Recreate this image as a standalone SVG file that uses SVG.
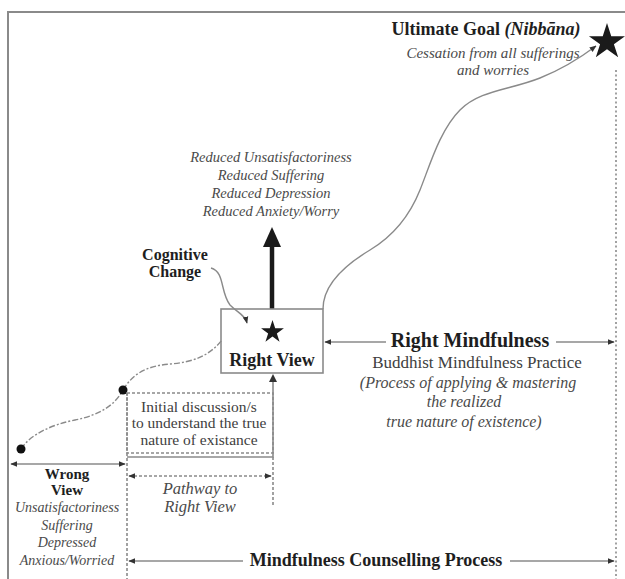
<svg xmlns="http://www.w3.org/2000/svg" width="625" height="579" viewBox="0 0 625 579">
<style>
.frame{stroke:#8a8a8a;stroke-width:2;fill:none}
.ln{stroke:#8a8a8a;stroke-width:1.6;fill:none}
.dash{stroke:#8a8a8a;stroke-width:1.6;fill:none;stroke-dasharray:3 2}
.dot{stroke:#8a8a8a;stroke-width:1.6;fill:none;stroke-dasharray:2 2.5}
.curve{stroke:#8a8a8a;stroke-width:1.4;fill:none}
.ccurve{stroke:#8a8a8a;stroke-width:1.4;fill:none;stroke-dasharray:6 2 2 2}
.b{font-family:"Liberation Serif",serif;font-weight:bold;fill:#1e1e1e;text-anchor:middle}
.i{font-family:"Liberation Serif",serif;font-style:italic;fill:#4a4a4a;text-anchor:middle}
.r{font-family:"Liberation Serif",serif;fill:#404040;text-anchor:middle}
</style>
<defs>
<marker id="ah" viewBox="0 0 10 10" refX="9" refY="5" markerWidth="7" markerHeight="7" orient="auto-start-reverse" markerUnits="userSpaceOnUse">
<path d="M0,1 L10,5 L0,9 z" fill="#333"/>
</marker>
<polygon id="star" points="0,-1 0.2245,-0.309 0.9511,-0.309 0.3633,0.118 0.5878,0.809 0,0.382 -0.5878,0.809 -0.3633,0.118 -0.9511,-0.309 -0.2245,-0.309" fill="#1a1a1a"/>
</defs>
<rect width="625" height="579" fill="#fff"/>
<path class="frame" d="M8,579 L8,12 L625,12"/>

<g id="connectors">
<path class="curve" d="M323,309 C323,285 345,265 370,250 C395,235 410,215 420,190 C430,165 440,130 460,110 C480,90 510,90 540,78 C560,70 580,58 596,46" marker-end="url(#ah)"/>
<path class="ccurve" d="M21,449 C30,435 50,425 75,420 C100,415 115,405 123,390"/>
<path class="ccurve" d="M123,390 C132,375 145,366 170,364 C195,362 210,355 222,340"/>
<path class="curve" d="M211,268 C225,272 220,292 230,305 C238,313 245,315 247,323" marker-end="url(#ah)"/>
<line x1="272" y1="309" x2="272" y2="244" stroke="#1a1a1a" stroke-width="4.5"/>
<path d="M263,247 L272,227 L281,247 z" fill="#1a1a1a"/>
<path class="ln" d="M127,457 L273,457 L273,380"/>
<path d="M269,382 L273,374 L277,382 z" fill="#333"/>
<line class="dash" x1="127" y1="393" x2="127" y2="579"/>
<line class="dash" x1="273" y1="457" x2="273" y2="505"/>
<line class="ln" x1="11" y1="464" x2="125" y2="464" marker-start="url(#ah)" marker-end="url(#ah)"/>
<line class="dash" x1="129" y1="476" x2="271" y2="476" marker-start="url(#ah)" marker-end="url(#ah)"/>
<line class="ln" x1="325" y1="342" x2="386" y2="342" marker-start="url(#ah)"/>
<line class="ln" x1="556" y1="342" x2="614" y2="342" marker-end="url(#ah)"/>
<line class="ln" x1="129" y1="561" x2="243" y2="561" marker-start="url(#ah)"/>
<line class="ln" x1="510" y1="561" x2="614" y2="561" marker-end="url(#ah)"/>
<line class="dot" x1="616" y1="70" x2="616" y2="579"/>
</g>

<g id="goal">
<use href="#star" transform="translate(607,42) scale(19)"/>
<text class="b" x="486" y="35" font-size="18">Ultimate Goal <tspan font-style="italic">(Nibbāna)</tspan></text>
<text class="i" x="493" y="58" font-size="15">Cessation from all sufferings</text>
<text class="i" x="493" y="75" font-size="15">and worries</text>
</g>

<g id="reduced">
<text class="i" x="271" y="162" font-size="14.5">Reduced Unsatisfactoriness</text>
<text class="i" x="271" y="180" font-size="14.5">Reduced Suffering</text>
<text class="i" x="271" y="198" font-size="14.5">Reduced Depression</text>
<text class="i" x="271" y="216" font-size="14.5">Reduced Anxiety/Worry</text>
</g>

<g id="cognitive">
<text class="b" x="175" y="260" font-size="16">Cognitive</text>
<text class="b" x="175" y="277" font-size="16">Change</text>
</g>

<g id="rightview">
<rect x="221" y="309" width="102" height="64" fill="none" stroke="#8a8a8a" stroke-width="1.6"/>
<use href="#star" transform="translate(272.5,332) scale(12)"/>
<text class="b" x="272" y="366" font-size="18">Right View</text>
</g>

<g id="dots">
<circle cx="123" cy="390" r="4.5" fill="#111"/>
<circle cx="21" cy="449" r="4.5" fill="#111"/>
</g>

<g id="initial">
<rect x="127" y="393" width="146" height="60" class="dash"/>
<text class="r" x="199" y="412" font-size="15.5">Initial discussion/s</text>
<text class="r" x="199" y="428" font-size="15.5">to understand the true</text>
<text class="r" x="199" y="445" font-size="15.5">nature of existance</text>
</g>

<g id="wrongview">
<text class="b" x="67" y="479" font-size="15">Wrong</text>
<text class="b" x="67" y="495" font-size="15">View</text>
<text class="i" x="67" y="512" font-size="14">Unsatisfactoriness</text>
<text class="i" x="67" y="530" font-size="14">Suffering</text>
<text class="i" x="67" y="547" font-size="14">Depressed</text>
<text class="i" x="67" y="565" font-size="14">Anxious/Worried</text>
</g>

<g id="pathway">
<text class="i" x="200" y="494" font-size="16.5">Pathway to</text>
<text class="i" x="200" y="512" font-size="16.5">Right View</text>
</g>

<g id="mindfulness">
<text class="b" x="470" y="347" font-size="20">Right Mindfulness</text>
<text class="r" x="477" y="368" font-size="17">Buddhist Mindfulness Practice</text>
<text class="i" x="468" y="388" font-size="16">(Process of applying &amp; mastering</text>
<text class="i" x="464" y="407" font-size="16">the realized</text>
<text class="i" x="464" y="427" font-size="16">true nature of existence)</text>
</g>

<g id="process">
<text class="b" x="376" y="566" font-size="18">Mindfulness Counselling Process</text>
</g>
</svg>
